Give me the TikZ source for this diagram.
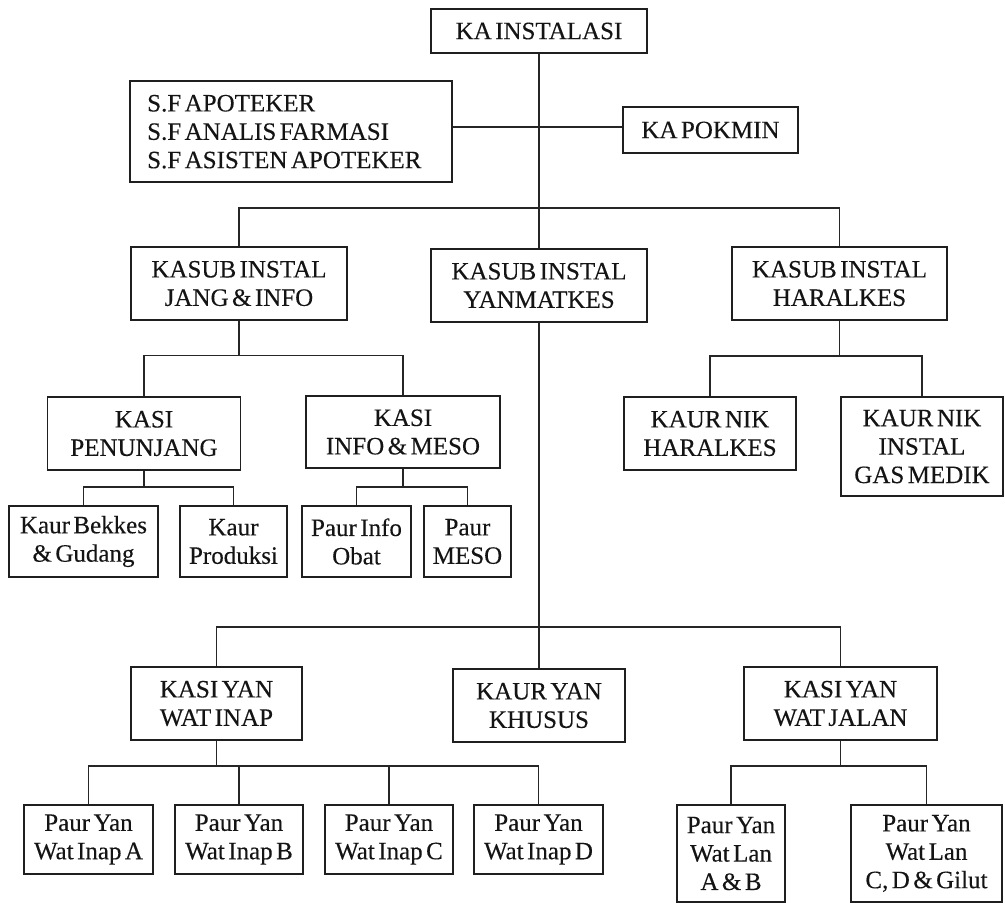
\documentclass[tikz,border=0pt]{standalone}
\usepackage{fontspec}
\setmainfont[WordSpace=0.55,FakeBold=0.25]{Liberation Serif}
\begin{document}
\begin{tikzpicture}[x=1pt,y=-1pt,
  txt/.style={inner sep=0pt, font=\fontsize{25}{28.4}\selectfont, text=black!92},
  box/.style={txt, draw=black!88, line width=1.6pt, align=center},
  link/.style={draw=black!85, line width=1.3pt}]
\useasboundingbox (0,0) rectangle (1005,903);

% --- head of the installation and staff
\node[box, minimum width=216, minimum height=44] (kai) at (539,31) {KA INSTALASI};
\node[box, minimum width=322, minimum height=101] (sf) at (291,131.5) {};
\node[txt, align=left, anchor=west] (sft) at (147,131.7)
  {S.F APOTEKER\\S.F ANALIS FARMASI\\S.F ASISTEN APOTEKER};
\node[box, minimum width=175, minimum height=46] (pok) at (710.5,130) {KA POKMIN};

% --- sub-installations
\node[box, minimum width=216, minimum height=73] (jang) at (239,283.5) {KASUB INSTAL\\JANG \& INFO};
\node[box, minimum width=216, minimum height=73] (yan) at (539,285.5) {KASUB INSTAL\\YANMATKES};
\node[box, minimum width=215, minimum height=73] (har) at (839.5,283.5) {KASUB INSTAL\\HARALKES};

% --- sections under JANG & INFO and HARALKES
\node[box, minimum width=193, minimum height=73] (pen) at (144,433.5) {KASI\\PENUNJANG};
\node[box, minimum width=194, minimum height=72] (ime) at (403,432) {KASI\\INFO \& MESO};
\node[box, minimum width=172, minimum height=73] (nikh) at (710,433.5) {KAUR NIK\\HARALKES};
\node[box, minimum width=162, minimum height=99] (gas) at (922,446.5) {KAUR NIK\\INSTAL\\GAS MEDIK};

% --- units under the sections
\node[box, minimum width=149, minimum height=71] (bek) at (83.5,541.5) {Kaur Bekkes\\\& Gudang};
\node[box, minimum width=107, minimum height=71] (pro) at (233.5,541.5) {Kaur\\Produksi};
\node[box, minimum width=109, minimum height=71] (pio) at (356.5,541.5) {Paur Info\\Obat};
\node[box, minimum width=87, minimum height=71] (pme) at (467.5,541.5) {Paur\\MESO};

% --- sections under YANMATKES
\node[box, minimum width=171, minimum height=73] (wi) at (216.5,703.5) {KASI YAN\\WAT INAP};
\node[box, minimum width=172, minimum height=73] (khu) at (539,705.5) {KAUR YAN\\KHUSUS};
\node[box, minimum width=193, minimum height=73] (wj) at (840.5,703.5) {KASI YAN\\WAT JALAN};

% --- service units
\node[box, minimum width=129, minimum height=69] (pa) at (88.5,839.5) {Paur Yan\\Wat Inap A};
\node[box, minimum width=128, minimum height=69] (pb) at (239,839.5) {Paur Yan\\Wat Inap B};
\node[box, minimum width=128, minimum height=69] (pc) at (389,839.5) {Paur Yan\\Wat Inap C};
\node[box, minimum width=129, minimum height=69] (pd) at (538.5,839.5) {Paur Yan\\Wat Inap D};
\node[box, minimum width=108, minimum height=97] (pab) at (731,853.5) {Paur Yan\\Wat Lan\\A \& B};
\node[box, minimum width=151, minimum height=97] (pcd) at (926.5,853.5) {Paur Yan\\Wat Lan\\C, D \& Gilut};

% --- bus junctions
\coordinate (h1) at (539,127);
\coordinate (b1) at (539,208);
\coordinate (b2) at (239,355.5);
\coordinate (b3) at (839.5,356);
\coordinate (b4) at (144,487);
\coordinate (b5) at (403,487);
\coordinate (b6) at (539,627);
\coordinate (b7) at (216.5,766);
\coordinate (b8) at (840.5,766);

% --- connectors
\draw[link] (kai.south) -- (yan.north);
\draw[link] (yan.south) -- (khu.north);
\draw[link] (sf.east |- h1) -- (pok.west |- h1);
\draw[link] (jang.north) |- (b1) -| (har.north);

\draw[link] (jang.south) -- (b2);
\draw[link] (pen.north) |- (b2) -| (ime.north);
\draw[link] (har.south) -- (b3);
\draw[link] (nikh.north) |- (b3) -| (gas.north);

\draw[link] (pen.south) -- (b4);
\draw[link] (bek.north) |- (b4) -| (pro.north);
\draw[link] (ime.south) -- (b5);
\draw[link] (pio.north) |- (b5) -| (pme.north);

\draw[link] (wi.north) |- (b6) -| (wj.north);

\draw[link] (wi.south) -- (b7);
\draw[link] (pa.north) |- (b7) -| (pd.north);
\draw[link] (pb.north) -- (pb.north |- b7);
\draw[link] (pc.north) -- (pc.north |- b7);
\draw[link] (wj.south) -- (b8);
\draw[link] (pab.north) |- (b8) -| (pcd.north);
\end{tikzpicture}
\end{document}
